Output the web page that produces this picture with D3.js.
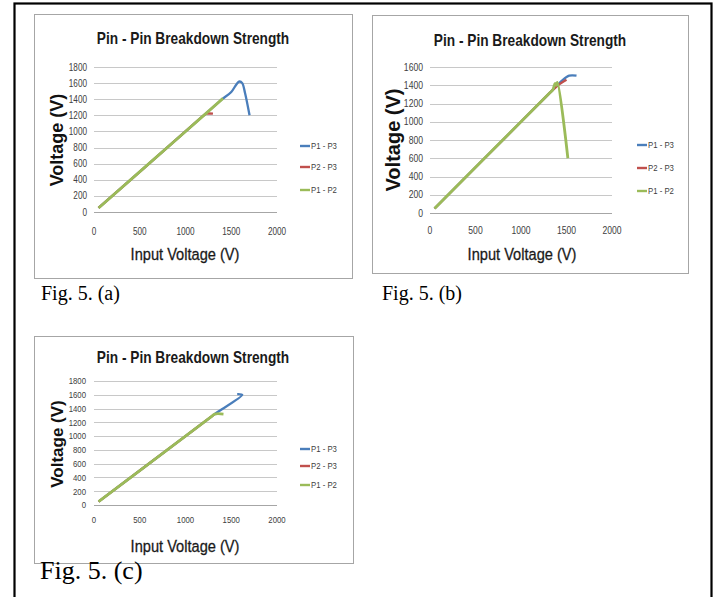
<!DOCTYPE html>
<meta charset="utf-8">
<style>
body { margin: 0; background: #fff; }
svg { display: block; }
.narrow { font-family: "Liberation Sans", Arial, sans-serif; }
.y-title { font-family: "Liberation Sans", Arial, sans-serif; font-weight: bold; fill: #111; }
.caption { font-family: "Liberation Serif", "Times New Roman", serif; fill: #000; }
</style>
<body>
<div id="graph"></div>
<script src="https://d3js.org/d3.v7.min.js"></script>
<script>
// shared labels
var seriesNames = ["P1 - P3", "P2 - P3", "P1 - P2"];
var seriesColors = ["#4a7ebb", "#c0504d", "#9bbb59"];
var xTicks = [0, 500, 1000, 1500, 2000];
var yTicks1800 = [0, 200, 400, 600, 800, 1000, 1200, 1400, 1600, 1800];
var yTicks1600 = [0, 200, 400, 600, 800, 1000, 1200, 1400, 1600];

// Fig 5 (a)  -- [input voltage, voltage]
var aP1P3 = [[50, 50], [1000, 1000], [1350, 1350], [1400, 1400], [1500, 1490], [1560, 1590], [1590, 1620], [1620, 1600], [1650, 1480], [1700, 1200]];
var aP2P3 = [[50, 50], [1000, 1000], [1200, 1200], [1230, 1220], [1300, 1220]];
var aP1P2 = [[50, 50], [1000, 1000], [1410, 1410]];

// Fig 5 (b)
var bP1P3 = [[50, 50], [1000, 1000], [1350, 1350], [1400, 1400], [1450, 1450], [1530, 1505], [1610, 1505]];
var bP2P3 = [[50, 50], [1000, 1000], [1300, 1300], [1350, 1350], [1420, 1410], [1500, 1460]];
var bP1P2 = [[50, 50], [1000, 1000], [1320, 1320], [1350, 1350], [1375, 1420], [1388, 1400], [1400, 1430], [1515, 600]];

// Fig 5 (c)
var cP1P3 = [[50, 50], [1000, 1000], [1300, 1300], [1340, 1340], [1620, 1600], [1565, 1610]];
var cP2P3 = [[50, 50], [1000, 1000], [1300, 1300]];
var cP1P2 = [[50, 50], [1000, 1000], [1290, 1290], [1320, 1320], [1415, 1320]];

var captions = ["Fig. 5. (a)", "Fig. 5. (b)", "Fig. 5. (c)"];
var chartTitle = "Pin - Pin Breakdown Strength";
var xTitle = "Input Voltage (V)";
var yTitle = "Voltage (V)";

var svg = d3.select("#graph").append("svg")
    .attr("width", 716)
    .attr("height", 597);

svg.append("rect").attr("width", 716).attr("height", 597).attr("fill", "#fff");

// outer table border
svg.append("rect")
    .attr("x", 14.5).attr("y", 3.5)
    .attr("width", 697).attr("height", 620)
    .attr("fill", "none").attr("stroke", "#000").attr("stroke-width", 2.2);

// Calibri-ish look: squeeze Liberation Sans horizontally
function narrowText(parent, x, y, txt, size, anchor, sx) {
    return parent.append("text")
        .attr("class", "narrow")
        .attr("transform", "translate(" + x + "," + y + ") scale(" + (sx || 0.82) + ",1)")
        .attr("text-anchor", anchor)
        .attr("font-size", size)
        .text(txt);
}

function drawChart(cfg) {
    var g = svg.append("g");

    g.append("rect")
        .attr("x", cfg.box[0] + 0.5).attr("y", cfg.box[1] + 0.5)
        .attr("width", cfg.box[2]).attr("height", cfg.box[3])
        .attr("fill", "#fff").attr("stroke", "#a6a6a6");

    var x = d3.scaleLinear().domain([0, 2000]).range([cfg.plot[0], cfg.plot[1]]);
    var y = d3.scaleLinear().domain([0, cfg.yMax]).range([cfg.plot[2], cfg.plot[3]]);

    // gridlines
    g.selectAll(".grid").data(cfg.yTicks).enter().append("line")
        .attr("x1", x(0)).attr("x2", x(2000))
        .attr("y1", function(d) { return Math.round(y(d)) + 0.5; })
        .attr("y2", function(d) { return Math.round(y(d)) + 0.5; })
        .attr("stroke", function(d) { return d === 0 ? "#a6a6a6" : "#c8c8c8"; })
        .attr("stroke-width", 1);

    cfg.yTicks.forEach(function(d) {
        narrowText(g, cfg.tickX, y(d) + cfg.tickSize * 0.35, d, cfg.tickSize, "end")
            .attr("fill", "#404040");
    });
    xTicks.forEach(function(d) {
        narrowText(g, x(d), cfg.tickY + cfg.tickSize * 0.35, d, cfg.tickSize, "middle")
            .attr("fill", "#404040");
    });

    var line = d3.line()
        .x(function(d) { return x(d[0]); })
        .y(function(d) { return y(d[1]); })
        .curve(d3.curveCatmullRom.alpha(0.5));

    cfg.series.forEach(function(s, i) {
        g.append("path")
            .datum(s)
            .attr("fill", "none")
            .attr("stroke", seriesColors[i])
            .attr("stroke-width", i === 2 ? 2.8 : 2.3) // green sits on top and hides the seams
            .attr("stroke-linejoin", "round")
            .attr("d", line);
    });

    // legend
    seriesNames.forEach(function(name, i) {
        g.append("line")
            .attr("x1", cfg.legendX).attr("x2", cfg.legendX + 10)
            .attr("y1", cfg.legendY[i]).attr("y2", cfg.legendY[i])
            .attr("stroke", seriesColors[i]).attr("stroke-width", 2.4);
        narrowText(g, cfg.legendX + 11, cfg.legendY[i] + 3.3, name, cfg.legendSize, "start")
            .attr("fill", "#404040");
    });

    narrowText(g, cfg.titleX, cfg.titleY, chartTitle, 16.5, "middle", 0.83)
        .attr("font-weight", "bold")
        .attr("fill", "#1a1a1a");

    narrowText(g, cfg.xTitleX, cfg.xTitleY, xTitle, 17, "middle", 0.86)
        .attr("fill", "#1a1a1a")
        .attr("stroke", "#1a1a1a")
        .attr("stroke-width", 0.3);

    g.append("text")
        .attr("class", "y-title")
        .attr("transform", "translate(" + cfg.yTitleX + "," + cfg.yTitleY + ") rotate(-90)")
        .attr("text-anchor", "middle")
        .attr("dy", "0.35em")
        .attr("font-size", cfg.yTitleSize)
        .text(yTitle);

    svg.append("text")
        .attr("class", "caption")
        .attr("x", cfg.captionX).attr("y", cfg.captionY)
        .attr("font-size", cfg.captionSize)
        .text(cfg.caption);
}

drawChart({
    box: [34, 14, 318, 264], plot: [94, 277, 212, 67],
    yMax: 1800, yTicks: yTicks1800, series: [aP1P3, aP2P3, aP1P2],
    tickX: 87, tickY: 231, tickSize: 10,
    legendX: 300, legendY: [146, 167, 190], legendSize: 9.5,
    titleX: 193, titleY: 44, xTitleX: 185, xTitleY: 260,
    yTitleX: 57, yTitleY: 140, yTitleSize: 18,
    captionX: 41, captionY: 300, captionSize: 20, caption: captions[0]
});

drawChart({
    box: [372, 15, 316, 258], plot: [430, 612, 213, 67],
    yMax: 1600, yTicks: yTicks1600, series: [bP1P3, bP2P3, bP1P2],
    tickX: 423, tickY: 230, tickSize: 10.5,
    legendX: 637, legendY: [145, 168, 191], legendSize: 9.5,
    titleX: 530, titleY: 46, xTitleX: 522, xTitleY: 260,
    yTitleX: 393, yTitleY: 140, yTitleSize: 20,
    captionX: 382, captionY: 300, captionSize: 20, caption: captions[1]
});

drawChart({
    box: [34, 336, 319, 227], plot: [94, 277, 505, 381],
    yMax: 1800, yTicks: yTicks1800, series: [cP1P3, cP2P3, cP1P2],
    tickX: 86, tickY: 520, tickSize: 9.5,
    legendX: 300, legendY: [449, 466, 485], legendSize: 9.5,
    titleX: 193, titleY: 363, xTitleX: 185, xTitleY: 552,
    yTitleX: 57, yTitleY: 444, yTitleSize: 17,
    captionX: 40, captionY: 579, captionSize: 26, caption: captions[2]
});
</script>
</body>
